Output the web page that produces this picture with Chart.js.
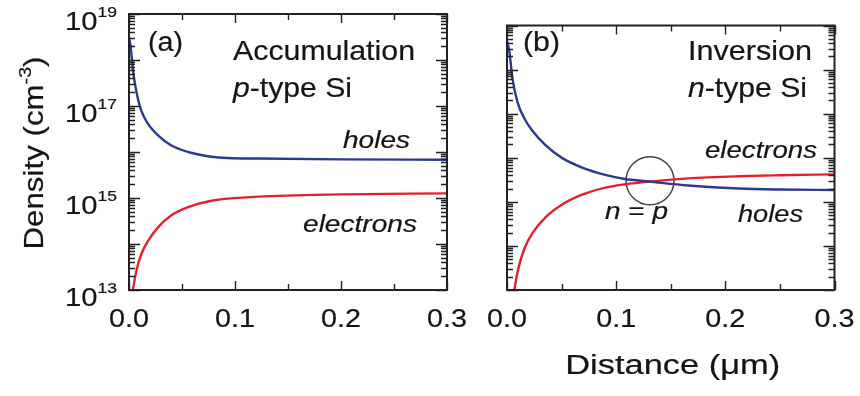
<!DOCTYPE html>
<html>
<head>
<meta charset="utf-8">
<script src="https://cdn.jsdelivr.net/npm/chart.js@4.4.0/dist/chart.umd.min.js"></script>
<style>
  body { margin: 0; background: #fff; }
  .panel { position: absolute; top: 0; height: 396px; }
  #pa { left: 0; width: 470px; }
  #pb { left: 470px; width: 390px; }
</style>
</head>
<body>
<div class="panel" id="pa"><canvas id="chartA"></canvas></div>
<div class="panel" id="pb"><canvas id="chartB"></canvas></div>
<script>
// (a) accumulation, p-type Si  (distance in um, density in cm^-3)
const holesA_x = [0, 0.0016, 0.0038, 0.0069, 0.0116, 0.018, 0.0274, 0.040, 0.0557, 0.0777, 0.0934, 0.122, 0.2, 0.3];
const holesA = [3.2e18, 1.9e18, 5.9e17, 2.1e17, 7.9e16, 4.1e16, 2.3e16, 1.38e16, 1.0e16, 7.9e15, 7.4e15, 7.2e15, 6.9e15, 6.8e15];
const elecA_x = [0.0036, 0.0069, 0.0116, 0.018, 0.0274, 0.040, 0.0557, 0.0777, 0.122, 0.2, 0.3];
const elecA = [1.0e13, 2.6e13, 6.0e13, 1.17e14, 2.3e14, 4.2e14, 6.3e14, 8.7e14, 1.07e15, 1.2e15, 1.26e15];

// (b) inversion, n-type Si
const holesB_x = [0, 0.0021, 0.0052, 0.0097, 0.0158, 0.0233, 0.0355, 0.0506, 0.0688, 0.09, 0.108, 0.13, 0.166, 0.212, 0.25, 0.3];
const holesB = [4.5e18, 2.6e18, 5.9e17, 1.8e17, 7.9e16, 4.1e16, 1.9e16, 9.8e15, 6.0e15, 4.1e15, 3.3e15, 2.9e15, 2.35e15, 2.0e15, 1.9e15, 1.86e15];
const elecB_x = [0.0067, 0.0097, 0.0158, 0.0233, 0.0355, 0.0506, 0.0688, 0.09, 0.108, 0.136, 0.166, 0.212, 0.25, 0.3];
const elecB = [1.0e13, 2.6e13, 8.5e13, 1.95e14, 4.5e14, 8.7e14, 1.45e15, 2.1e15, 2.5e15, 2.95e15, 3.4e15, 3.8e15, 4.0e15, 4.2e15];
const crossB = [{ x: 0.131, y: 3.0e15 }];   // n = p

const xTicks = [0, 0.1, 0.2, 0.3];
const xMinor = [0.05, 0.15, 0.25];
const yLabelExp = [13, 15, 17, 19];

const FONT = '"Liberation Sans", Arial, sans-serif';
const BLUE = '#2c3a8e';
const RED = '#e2202e';
const INK = '#151515';

function pts(xs, ys) {
  return xs.map((x, i) => ({ x: x, y: ys[i] }));
}

// draws text pieces squeezed/stretched to a given width
function drawText(ctx, parts, x, y, width, align) {
  const ws = parts.map(p => {
    ctx.font = (p.i ? 'italic ' : '') + p.s + 'px ' + FONT;
    return ctx.measureText(p.t).width;
  });
  const total = ws.reduce((a, b) => a + b, 0);
  const sx = width / total;
  let x0 = x;
  if (align === 'center') x0 = x - width / 2;
  if (align === 'right') x0 = x - width;
  ctx.save();
  ctx.translate(x0, y);
  ctx.scale(sx, 1);
  ctx.fillStyle = INK;
  ctx.strokeStyle = INK;
  ctx.lineWidth = 0.2;
  ctx.textAlign = 'left';
  ctx.textBaseline = 'alphabetic';
  let cx = 0;
  parts.forEach((p, i) => {
    ctx.font = (p.i ? 'italic ' : '') + p.s + 'px ' + FONT;
    ctx.fillText(p.t, cx, p.dy || 0);
    ctx.strokeText(p.t, cx, p.dy || 0);
    cx += ws[i];
  });
  ctx.restore();
}

function decor(notes, yLabels, xTitle) {
  return {
    id: 'decor',
    afterDraw(chart) {
      const ctx = chart.ctx;
      const a = chart.chartArea;
      const sx = chart.scales.x, sy = chart.scales.y;
      ctx.save();
      ctx.strokeStyle = '#222';
      ctx.lineWidth = 1.4;
      ctx.beginPath();
      // y ticks, both sides, inward
      for (let e = 13; e <= 19; e++) {
        for (let m = 1; m < 10; m++) {
          if (e === 19 && m > 1) break;
          const py = Math.round(sy.getPixelForValue(m * Math.pow(10, e))) + 0.5;
          const len = m === 1 ? 11 : 6;
          ctx.moveTo(a.left, py); ctx.lineTo(a.left + len, py);
          ctx.moveTo(a.right, py); ctx.lineTo(a.right - len, py);
        }
      }
      // x ticks, top and bottom
      xTicks.concat(xMinor).forEach(v => {
        const px = Math.round(sx.getPixelForValue(v)) + 0.5;
        const len = xMinor.includes(v) ? 6 : 9;
        ctx.moveTo(px, a.bottom); ctx.lineTo(px, a.bottom - len);
        ctx.moveTo(px, a.top); ctx.lineTo(px, a.top + len);
      });
      ctx.stroke();
      ctx.lineWidth = 2;
      ctx.strokeRect(a.left, a.top, a.right - a.left, a.bottom - a.top);
      ctx.restore();

      // x tick labels
      xTicks.forEach(v => {
        drawText(ctx, [{ t: v.toFixed(1), s: 26 }], sx.getPixelForValue(v), a.bottom + 37, 40, 'center');
      });

      if (yLabels) {
        yLabelExp.forEach(e => {
          const py = sy.getPixelForValue(Math.pow(10, e));
          drawText(ctx, [{ t: '10', s: 25 }, { t: String(e), s: 15, dy: -13 }], 117, py + 16, 52, 'right');
        });
        ctx.save();
        ctx.translate(43, 153);
        ctx.rotate(-Math.PI / 2);
        drawText(ctx, [{ t: 'Density (cm', s: 27 }, { t: '-3', s: 17, dy: -12 }, { t: ')', s: 27 }], 0, 0, 193, 'center');
        ctx.restore();
      }
      if (xTitle) {
        drawText(ctx, [{ t: 'Distance (\u03bcm)', s: 27 }], (a.left + a.right) / 2 + 2, 374, 215, 'center');
      }
      notes.forEach(n => drawText(ctx, n.parts, a.left + n.dx, n.y, n.w, 'left'));
    }
  };
}

function makeChart(id, datasets, yWidth, notes, yLabels, xTitle) {
  return new Chart(document.getElementById(id), {
    type: 'line',
    data: { datasets: datasets },
    options: {
      responsive: true,
      maintainAspectRatio: false,
      animation: false,
      layout: { padding: { left: 0, right: 23, top: 14, bottom: 0 } },
      plugins: { legend: { display: false }, tooltip: { enabled: false } },
      elements: {
        point: { radius: 0 },
        line: { borderWidth: 2.4, cubicInterpolationMode: 'monotone' }
      },
      scales: {
        x: {
          type: 'linear', min: 0, max: 0.3,
          ticks: { display: false }, grid: { display: false }, border: { display: false },
          afterFit: s => { s.height = 106; }
        },
        y: {
          type: 'logarithmic', min: 1e13, max: 1e19,
          ticks: { display: false }, grid: { display: false }, border: { display: false },
          afterFit: s => { s.width = yWidth; }
        }
      }
    },
    plugins: [decor(notes, yLabels, xTitle)]
  });
}

makeChart('chartA', [
  { data: pts(holesA_x, holesA), borderColor: BLUE, fill: false },
  { data: pts(elecA_x, elecA), borderColor: RED, fill: false }
], 129, [
  { parts: [{ t: '(a)', s: 27 }], dx: 19, y: 51, w: 35 },
  { parts: [{ t: 'Accumulation', s: 28 }], dx: 104, y: 60, w: 182 },
  { parts: [{ t: 'p', s: 28, i: true }, { t: '-type Si', s: 28 }], dx: 104, y: 97, w: 119 },
  { parts: [{ t: 'holes', s: 23, i: true }], dx: 214, y: 148, w: 67 },
  { parts: [{ t: 'electrons', s: 23, i: true }], dx: 174, y: 232, w: 114 }
], true, false);

makeChart('chartB', [
  { data: pts(holesB_x, holesB), borderColor: BLUE, fill: false },
  { data: pts(elecB_x, elecB), borderColor: RED, fill: false },
  { data: crossB, showLine: false, pointRadius: 24, pointBorderWidth: 1.5,
    pointBorderColor: '#444', pointBackgroundColor: 'rgba(0,0,0,0)', clip: false }
], 37, [
  { parts: [{ t: '(b)', s: 27 }], dx: 16, y: 51, w: 37 },
  { parts: [{ t: 'Inversion', s: 28 }], dx: 181, y: 60, w: 124 },
  { parts: [{ t: 'n', s: 28, i: true }, { t: '-type Si', s: 28 }], dx: 181, y: 97, w: 119 },
  { parts: [{ t: 'electrons', s: 23, i: true }], dx: 198, y: 158, w: 112 },
  { parts: [{ t: 'holes', s: 23, i: true }], dx: 231, y: 222, w: 65 },
  { parts: [{ t: 'n', s: 23, i: true }, { t: ' = ', s: 23 }, { t: 'p', s: 23, i: true }], dx: 98, y: 219, w: 63 }
], false, true);
</script>
</body>
</html>
